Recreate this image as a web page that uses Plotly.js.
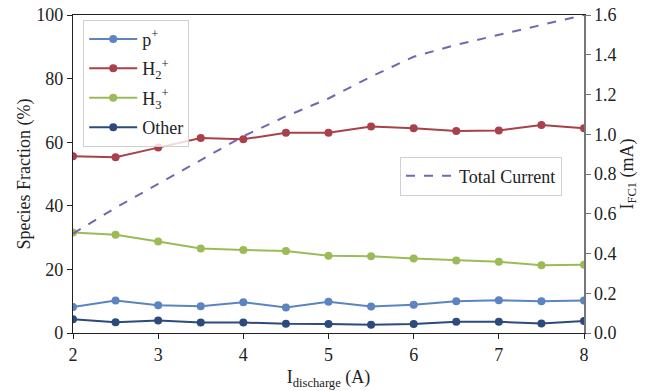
<!DOCTYPE html>
<html>
<head>
<meta charset="utf-8">
<script src="https://cdn.plot.ly/plotly-3.0.1.min.js"></script>
<style>html,body{margin:0;padding:0;background:#fff;}#chart{width:646px;height:391px;}</style>
</head>
<body>
<div id="chart"></div>
<script>
const dischargeCurrent = [2, 2.5, 3, 3.5, 4, 4.5, 5, 5.5, 6, 6.5, 7, 7.5, 8];
const pPlus  = [8.2, 10.2, 8.7, 8.4, 9.7, 8.0, 9.8, 8.3, 8.9, 10.0, 10.3, 10.0, 10.2];
const h2Plus = [55.6, 55.3, 58.3, 61.3, 60.9, 63.0, 63.0, 64.9, 64.4, 63.5, 63.7, 65.4, 64.4];
const h3Plus = [31.6, 30.9, 28.8, 26.6, 26.1, 25.8, 24.3, 24.1, 23.4, 22.8, 22.4, 21.3, 21.5];
const other  = [4.3, 3.4, 3.9, 3.3, 3.3, 2.9, 2.8, 2.6, 2.8, 3.5, 3.5, 3.0, 3.8];
const totalCurrent = [0.50, 0.63, 0.75, 0.87, 0.99, 1.09, 1.18, 1.29, 1.39, 1.45, 1.50, 1.55, 1.60];
const seriesNames = ['p<sup>+</sup>', 'H<sub>2</sub><sup>+</sup>', 'H<sub>3</sub><sup>+</sup>', 'Other'];
const totalName = 'Total Current';

const colors = ['#5b84c0', '#a8414a', '#9bbb59', '#2c4a7c'];
const font = 'Liberation Serif, DejaVu Serif, serif';

const species = [pPlus, h2Plus, h3Plus, other];
const traces = species.map((vals, i) => ({
  x: dischargeCurrent, y: vals, name: seriesNames[i],
  type: 'scatter', mode: 'lines+markers',
  line: {color: colors[i], width: 2},
  marker: {color: colors[i], size: 8},
  yaxis: 'y', legend: 'legend', legendgroup: 'g' + i
}));
traces.push({
  x: dischargeCurrent, y: totalCurrent, name: totalName,
  type: 'scatter', mode: 'lines',
  line: {color: '#7a64b0', width: 2, dash: 'dash'},
  yaxis: 'y2', legend: 'legend2'
});

const layout = {
  width: 646, height: 391,
  margin: {l: 73, r: 62, t: 15, b: 58},
  paper_bgcolor: '#fff', plot_bgcolor: '#fff',
  font: {family: font, size: 18, color: '#222'},
  showlegend: true,
  xaxis: {
    range: [2, 8], dtick: 1, tick0: 2,
    showgrid: false, zeroline: false,
    showline: true, linecolor: '#222', linewidth: 1.2, mirror: true,
    ticks: 'outside', ticklen: 5, tickcolor: '#222',
    tickfont: {size: 18},
    title: {text: 'I<sub>discharge</sub> (A)', font: {size: 18}, standoff: 6}
  },
  yaxis: {
    range: [0, 100], dtick: 20,
    showgrid: false, zeroline: false,
    showline: true, linecolor: '#222', linewidth: 1.2,
    ticks: 'outside', ticklen: 5, tickcolor: '#222',
    tickfont: {size: 18},
    title: {text: 'Species Fraction (%)', font: {size: 18}, standoff: 1}
  },
  yaxis2: {
    overlaying: 'y', side: 'right',
    range: [0, 1.6], dtick: 0.2, tickformat: '.1f',
    showgrid: false, zeroline: false,
    showline: true, linecolor: '#777', linewidth: 1.5,
    ticks: 'outside', ticklen: 5, tickcolor: '#777',
    tickfont: {size: 18},
    title: {text: 'I<sub>FC1</sub> (mA)', font: {size: 18}, standoff: 4}
  },
  legend: {
    x: 0.02, y: 0.985, xanchor: 'left', yanchor: 'top',
    bgcolor: 'rgba(255,255,255,0.8)', bordercolor: '#d0d0d0', borderwidth: 1,
    font: {size: 18, family: font}, tracegroupgap: 3, itemwidth: 48
  },
  legend2: {
    x: 0.64, y: 0.555, xanchor: 'left', yanchor: 'top',
    bgcolor: 'rgba(255,255,255,0.8)', bordercolor: '#d0d0d0', borderwidth: 1,
    font: {size: 18, family: font}, itemwidth: 48
  }
};

Plotly.newPlot('chart', traces, layout, {displayModeBar: false, staticPlot: true});
</script>
</body>
</html>
